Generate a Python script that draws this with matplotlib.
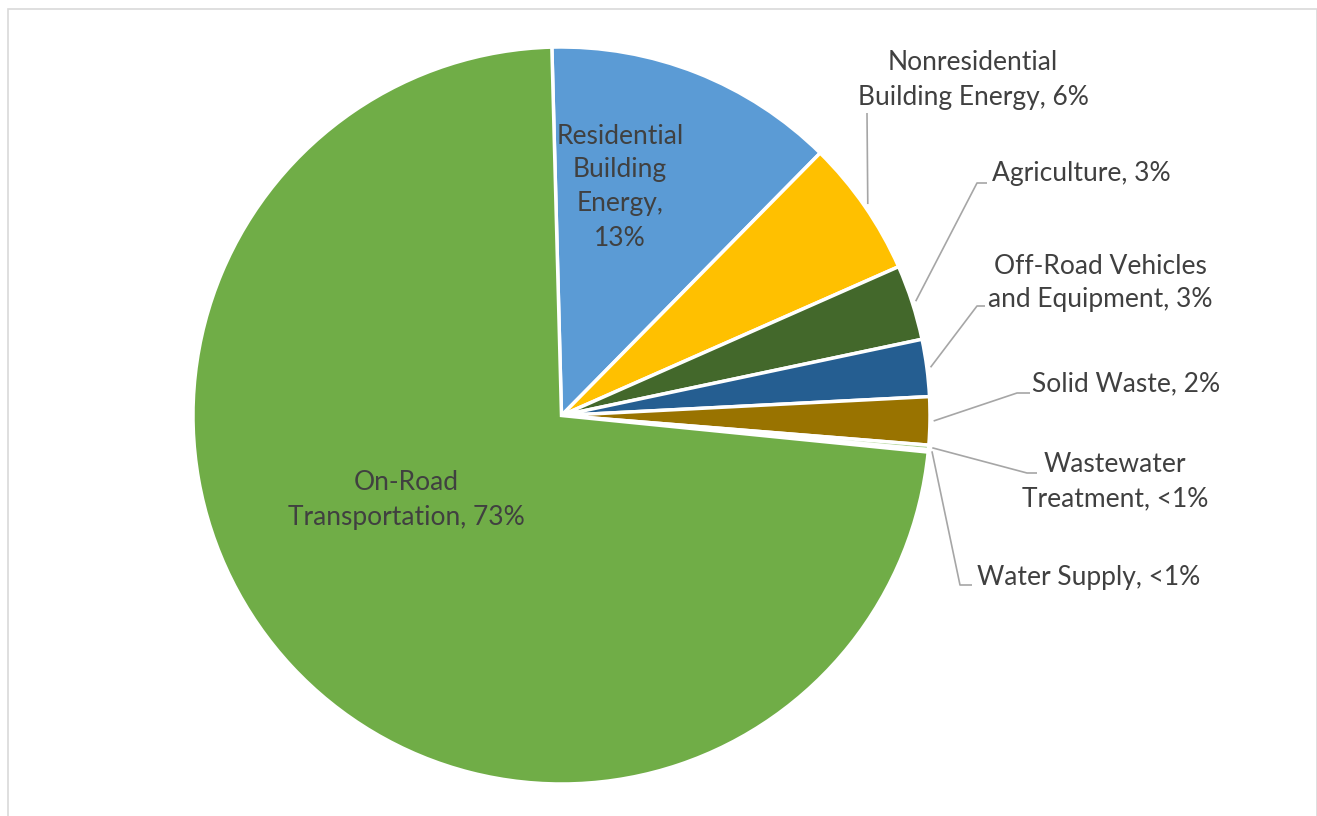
import numpy as np
import matplotlib; matplotlib.use("Agg"); import matplotlib.pyplot as plt
from matplotlib.patches import Rectangle

sectors=["Residential\nBuilding\nEnergy,\n13%","Nonresidential\nBuilding Energy, 6%","Agriculture, 3%",
         "Off-Road Vehicles\nand Equipment, 3%","Solid Waste, 2%","Wastewater\nTreatment, <1%",
         "Water Supply, <1%","On-Road\nTransportation, 73%"]
shares=[12.8,6.0,3.3,2.5,2.1,0.2,0.1,73.0]
colors=["#5B9BD5","#FFC000","#43682B","#255E91","#997300","#A9D18E","#9DC3E6","#70AD47"]

W,H=1317,816
CX,CY,R=561.5,H-415.5,368.5
TXT="#404040"; LEAD="#A6A6A6"
plt.rcParams["font.family"]=["Lato","DejaVu Sans"]

fig=plt.figure(figsize=(W/100,H/100),dpi=100)
ax=fig.add_axes([0,0,1,1]); ax.set_xlim(0,W); ax.set_ylim(0,H); ax.axis("off")
wedges,_=ax.pie(shares,colors=colors,startangle=91.5,counterclock=False,center=(CX,CY),radius=R,
                wedgeprops=dict(edgecolor="white",linewidth=2.5))
ax.set_xlim(0,W); ax.set_ylim(0,H)
fig.patches.append(Rectangle((8/W,-0.05),(W-8)/W,(H-9)/H+0.05,transform=fig.transFigure,
                             fill=False,edgecolor="#D9D9D9",linewidth=1.2))

def edge_pt(w,r=1.0):
    a=np.deg2rad((w.theta1+w.theta2)/2)
    return CX+R*r*np.cos(a), CY+R*r*np.sin(a)

fs=19; ls=1.45
# inside labels
ax.text(620,H-187,sectors[0],ha="center",va="center",color=TXT,fontsize=fs,linespacing=ls)
ax.text(406,H-500,sectors[7],ha="center",va="center",color=TXT,fontsize=fs,linespacing=ls)

# outside labels: (index, text x, text y, ha, elbow points in pixel coords from top)
outside=[(1,973,80,"center",[(867,113)]),
         (2,992,173,"left",[(977,183),(987,183)]),
         (3,1100,283,"center",[(977,306),(985,306)]),
         (4,1032,384,"left",[(1017,393),(1030,393)]),
         (5,1115,482,"center",[(1027,473),(1037,473)]),
         (6,977,578,"left",[(960,585),(972,585)])]
for i,tx,ty,ha,elb in outside:
    x0,y0=edge_pt(wedges[i],1.01)
    xs=[x0]+[p[0] for p in elb]; ys=[y0]+[H-p[1] for p in elb]
    ax.plot(xs,ys,color=LEAD,linewidth=1.2,solid_capstyle="butt")
    ax.text(tx,H-ty,sectors[i],ha=ha,va="center",color=TXT,fontsize=fs,linespacing=ls)

fig.savefig("out.png",dpi=100)
